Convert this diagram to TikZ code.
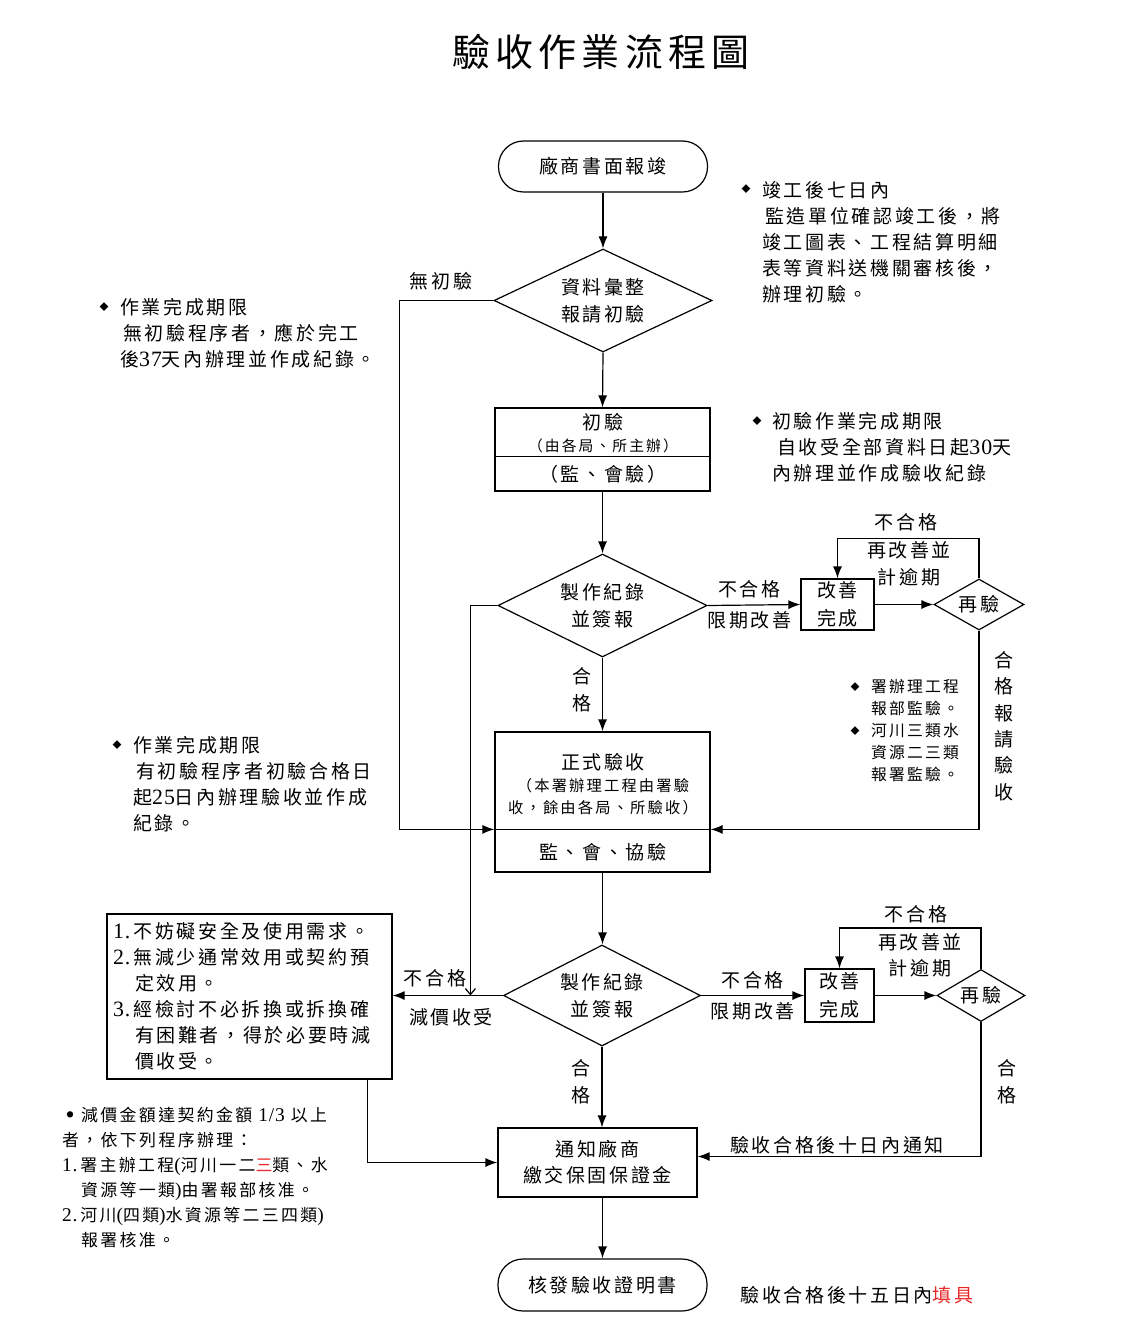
\documentclass[tikz,border=0pt]{standalone}
\usepackage{fontspec}
\newfontfamily\cjk[LetterSpace=14]{Noto Sans CJK TC}
\newfontfamily\lat[Scale=1.15,LetterSpace=4]{Liberation Serif}
\usetikzlibrary{shapes.geometric,arrows.meta,calc}
\definecolor{myred}{RGB}{232,40,40}
\newcommand{\fs}[2]{\fontsize{#1}{#2}\selectfont}
\newcommand{\dg}[1]{{\lat #1}}
\begin{document}
\begin{tikzpicture}[x=1pt,y=-1pt,
  every node/.style={font=\cjk\fs{19}{27}, inner sep=0pt, align=center},
  ln/.style={line width=1.2pt},
  arr/.style={ln, -{Latex[length=12pt,width=9pt]}},
  box/.style={draw, ln, rectangle},
  term/.style={draw, ln, rectangle, rounded corners=25pt},
  dia/.style={draw, ln, diamond},
  small/.style={font=\cjk\fs{15.3}{22}},
  note/.style={anchor=north west, align=left, font=\cjk\fs{19}{26}},
  bul/.style={font=\cjk\fs{9}{9}},
]
\useasboundingbox[fill=white] (0,0) rectangle (1146,1332);

% title
\node (title) at (601,52) {\fs{38}{40}驗收作業流程圖};

% main column
\node[term, minimum width=209, minimum height=51] (start) at (603,166.5) {廠商書面報竣};
\node[dia, minimum width=218, minimum height=103, aspect=2.1] (d1) at (603,300.5) {資料彙整\\報請初驗};

\node[box, minimum width=215, minimum height=83] (b2) at (602.5,449.5) {};
\draw[ln] ($(b2.north west)+(0,49)$) -- ($(b2.north east)+(0,49)$);
\node (b2a) at (603,422) {初驗};
\node[font=\cjk\fs{14.8}{18}] (b2b) at (603,446) {（由各局、所主辦）};
\node (b2c) at (603,474) {（監、會驗）};

\node[dia, minimum width=209, minimum height=103, aspect=2] (d2) at (602.5,605.5) {製作紀錄\\並簽報};
\node[box, minimum width=73, minimum height=51, font=\cjk\fs{19}{28}] (imp1) at (837.5,604.5) {改善\\完成};
\node[dia, minimum width=90, minimum height=51, aspect=1.76] (re1) at (979,604.5) {再驗};

\node[box, minimum width=215, minimum height=140] (b3) at (602.5,802) {};
\draw[ln] ($(b3.north west)+(0,98)$) -- ($(b3.north east)+(0,98)$);
\coordinate (b3L) at ($(b3.north west)+(0,98)$);
\coordinate (b3R) at ($(b3.north east)+(0,98)$);
\node (b3a) at (603,762) {正式驗收};
\node[small] (b3b) at (603,786) {（本署辦理工程由署驗};
\node[small] (b3c) at (603,808) {收，餘由各局、所驗收）};
\node (b3d) at (603,852) {監、會、協驗};

\node[dia, minimum width=197, minimum height=101, aspect=1.95] (d3) at (602,995.5) {製作紀錄\\並簽報};
\node[box, minimum width=69, minimum height=53, font=\cjk\fs{19}{28}] (imp2) at (839.5,995.5) {改善\\完成};
\node[dia, minimum width=88, minimum height=52, aspect=1.7] (re2) at (981,995.5) {再驗};

\node[box, minimum width=285, minimum height=165, text width=273, align=left, font=\cjk\fs{19}{26}] (lb) at (249.5,996.5)
 {\dg{1.}\,不妨礙安全及使用需求。\\
  \dg{2.}\,無減少通常效用或契約預\\
  \hspace*{22pt}定效用。\\
  \dg{3.}\,經檢討不必拆換或拆換確\\
  \hspace*{22pt}有困難者，得於必要時減\\
  \hspace*{22pt}價收受。};

\node[box, minimum width=199, minimum height=69, font=\cjk\fs{19}{26}] (notify) at (597.5,1162.5) {通知廠商\\繳交保固保證金};
\node[term, minimum width=209, minimum height=52] (end) at (602.5,1285) {核發驗收證明書};

% connectors
\draw[arr] (start.south) -- (d1.north);
\draw[arr] (d1.south) -- (b2.north);
\draw[arr] (b2.south) -- (d2.north);
\draw[arr] (d2.east) -- (imp1.west)
  node[pos=0.45, above=6pt] {不合格} node[pos=0.45, below=6pt] {限期改善};
\draw[arr] (imp1.east) -- (re1.west);
\draw[arr] (re1.north) -- ++(0,-40) -| (imp1.north);
\node (l1) at (906,522) {不合格};
\node (l2) at (909,550) {再改善並};
\node (l3) at (909,577) {計逾期};
\draw[arr] (re1.south) |- (b3R);
\node[font=\cjk\fs{19}{26.4}] (pass1) at (1004,726) {合\\格\\報\\請\\驗\\收};

\draw[arr] (d2.south) -- (b3.north);
\node (pass2) at (582,689.5) {合\\格};
\draw[arr] (d1.west) -- ++(-94,0) |- (b3L);
\node (noinit) at (441,281) {無初驗};
\draw[ln, -{Straight Barb[length=6pt,width=10pt]}] (d2.west) -- ++(-27,0) coordinate (j) -- (j |- d3.west);

\draw[arr] (b3.south) -- (b3.south |- d3.north);
\draw[arr] (d3.west) -- (d3.west -| lb.east);
\node (l4) at (435,978) {不合格};
\node (l5) at (451,1017) {減價收受};

\draw[arr] (d3.east) -- (imp2.west)
  node[pos=0.5, above=6pt] {不合格} node[pos=0.5, below=6pt] {限期改善};
\draw[arr] (imp2.east) -- (imp2.east -| re2.west);
\draw[arr] (re2.north) -- ++(0,-41) -| (imp2.north);
\node (l6) at (916,914) {不合格};
\node (l7) at (920,942) {再改善並};
\node (l8) at (920,968) {計逾期};
\coordinate (nR) at ($(notify.east)+(0,-6)$);
\draw[arr] (re2.south) |- (nR);
\node (l9) at (837,1145) {驗收合格後十日內通知};
\node (pass3) at (1007,1082) {合\\格};

\draw[arr] (d3.south) -- (d3.south |- notify.north);
\node (pass4) at (581,1082) {合\\格};
\draw[arr] ($(lb.south east)+(-25,0)$) |- (notify.west);
\draw[arr] (notify.south -| end.north) -- (end.north);

% notes
\node[bul] (n1b) at (746,189) {◆};
\node[note] (n1) at (762,181) {竣工後七日內\\\hspace*{3pt}監造單位確認竣工後，將\\竣工圖表、工程結算明細\\表等資料送機關審核後，\\辦理初驗。};
\node[bul] (n2b) at (104,307) {◆};
\node[note] (n2) at (120,298) {作業完成期限\\\hspace*{3pt}無初驗程序者，應於完工\\後\dg{37}天內辦理並作成紀錄。};
\node[bul] (n3b) at (757,421) {◆};
\node[note] (n3) at (772,412) {初驗作業完成期限\\\hspace*{5pt}自收受全部資料日起\dg{30}天\\內辦理並作成驗收紀錄};
\node[bul] (n4b) at (117,745) {◆};
\node[note] (n4) at (133,736) {作業完成期限\\\hspace*{3pt}有初驗程序者初驗合格日\\起\dg{25}日內辦理驗收並作成\\紀錄。};
\node[bul] (n5b) at (855,687) {◆};
\node[bul] (n5c) at (855,731) {◆};
\node[note, font=\cjk\fs{15.8}{22}] (n5) at (871,679) {署辦理工程\\報部監驗。\\河川三類水\\資源二三類\\報署監驗。};
\node[font=\cjk\fs{7}{7}] (n6b) at (70,1115) {●};
\node[note, font=\cjk\fs{16.9}{25}] (n6) at (81,1107) {減價金額達契約金額 \dg{1/3} 以上\\\hspace*{-19pt}者，依下列程序辦理：\\\hspace*{-19pt}\dg{1.}\,署主辦工程\dg{(}河川一二{\color{myred}三}類、水\\資源等一類\dg{)}由署報部核准。\\\hspace*{-19pt}\dg{2.}\,河川\dg{(}四類\dg{)}水資源等二三四類\dg{)}\\報署核准。};
\node (n7) at (857,1295) {驗收合格後十五日內{\color{myred}填具}};
\end{tikzpicture}
\end{document}
